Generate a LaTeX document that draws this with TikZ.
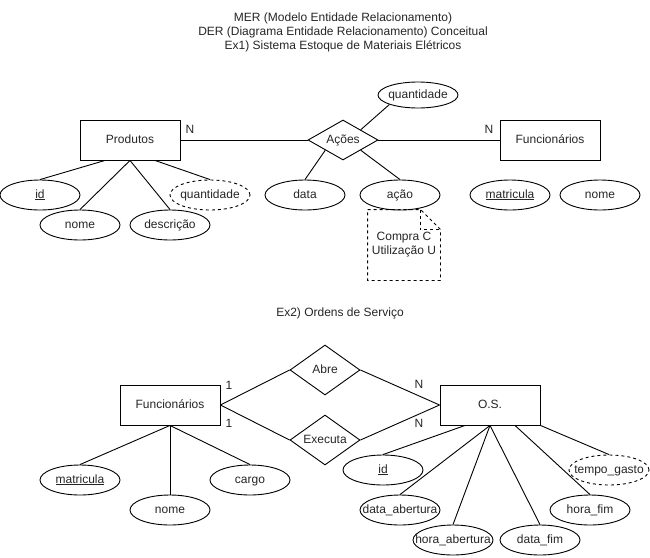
\documentclass[tikz,border=0pt]{standalone}
\usepackage{fontspec}
\setmainfont{Liberation Sans}
\usetikzlibrary{shapes.geometric,calc}
\newcommand{\zw}[1]{\makebox[0pt]{#1}}
\begin{document}
\begin{tikzpicture}[x=1pt,y=-1pt,line width=0.9pt,
  txt/.style={font=\fontsize{12}{14}\selectfont,inner sep=0pt,text=black!85},
  base/.style={txt,text height=9pt,text depth=3pt},
  ent/.style={base,draw,rectangle,minimum width=100,minimum height=40},
  attr/.style={base,draw,ellipse,minimum width=80,minimum height=30},
  dattr/.style={attr,dash pattern=on 3pt off 3pt},
  rel/.style={base,draw,diamond,minimum width=70,minimum height=40,shape aspect=1.75},
  relb/.style={rel,minimum height=50,shape aspect=1.4},
  card/.style={base},
  notebox/.style={txt,align=center,minimum width=72,minimum height=70},
  dashline/.style={dash pattern=on 3pt off 3pt}]
\useasboundingbox (0,0) rectangle (650,557);
\fill[white] (0,0) rectangle (650,557);

% titles
\node[txt,align=center] (title) at (343,32) {MER (Modelo Entidade Relacionamento)\\DER (Diagrama Entidade Relacionamento) Conceitual\\Ex1) Sistema Estoque de Materiais Elétricos};
\node[base] (ex2) at (340,313) {Ex2) Ordens de Serviço};

% Ex1
\node[ent] (prod) at (130,140) {Produtos};
\node[rel] (acoes) at (343,140) {\zw{Ações}};
\node[ent] (func1) at (550,140) {Funcionários};
\node[attr,minimum height=26] (qtd2) at (418,95) {\zw{quantidade}};
\node[attr] (id1) at (40,195) {\zw{\underline{id}}};
\node[attr] (nome1) at (80,225) {\zw{nome}};
\node[attr] (desc) at (170,225) {\zw{descrição}};
\node[dattr] (qtd1) at (210,195) {\zw{quantidade}};
\node[attr] (data) at (305,195) {\zw{data}};
\node[attr] (acao) at (400,195) {\zw{ação}};
\node[attr] (mat1) at (510,195) {\zw{\underline{matricula}}};
\node[attr] (nomef) at (600,195) {\zw{nome}};
\node[card] (n1) at (190,130) {N};
\node[card] (n2) at (489,130) {N};

\node[notebox] (note) at (404,245) {Compra C\\Utilização U};
\draw[dashline] (note.north west) -- ([xshift=-20pt]note.north east) -- ([yshift=-20pt]note.north east) -- (note.south east) -- (note.south west) -- cycle;
\draw[dashline] ([xshift=-20pt]note.north east) -- ([xshift=-20pt,yshift=-20pt]note.north east) -- ([yshift=-20pt]note.north east);

\draw (prod.east) -- (acoes.west);
\draw (acoes.east) -- (func1.west);
\draw (acoes.north east) -- (qtd2.south west);
\draw (acoes.south west) -- (data.north);
\draw (acoes.south east) -- (acao.north);
\draw ([xshift=-25pt]prod.south) -- (id1.north);
\draw (prod.south) -- (nome1.north);
\draw (prod.south) -- (desc.north);
\draw ([xshift=25pt]prod.south) -- (qtd1.north);

% Ex2
\node[ent] (func2) at (170,405) {Funcionários};
\node[relb] (abre) at (325,370) {\zw{Abre}};
\node[relb] (exec) at (325,440) {\zw{Executa}};
\node[ent] (os) at (490,405) {O.S.};
\node[card] (c1) at (229,386) {1};
\node[card] (c2) at (229,424) {1};
\node[card] (c3) at (419,385) {N};
\node[card] (c4) at (419,424) {N};

\node[attr] (mat2) at (80,480) {\zw{\underline{matricula}}};
\node[attr] (nome2) at (170,510) {\zw{nome}};
\node[attr] (cargo) at (250,480) {\zw{cargo}};
\node[attr] (id2) at (383,470) {\zw{\underline{id}}};
\node[attr] (dab) at (400,510) {\zw{data\_abertura}};
\node[attr] (hab) at (453,540) {\zw{hora\_abertura}};
\node[attr] (dfim) at (540,540) {\zw{data\_fim}};
\node[attr] (hfim) at (590,510) {\zw{hora\_fim}};
\node[dattr] (tg) at (609,470) {\zw{tempo\_gasto}};

\draw (func2.east) -- (abre.west);
\draw (abre.east) -- (os.west);
\draw (func2.east) -- (exec.west);
\draw (exec.east) -- (os.west);
\draw (func2.south) -- (mat2.north);
\draw (func2.south) -- (nome2.north);
\draw (func2.south) -- (cargo.north);
\draw ([xshift=-25pt]os.south) -- (id2.north);
\draw (os.south) -- (dab.north);
\draw (os.south) -- (hab.north);
\draw (os.south) -- (dfim.north);
\draw ([xshift=25pt]os.south) -- (hfim.north);
\draw (os.south east) -- (tg.north);
\end{tikzpicture}
\end{document}
